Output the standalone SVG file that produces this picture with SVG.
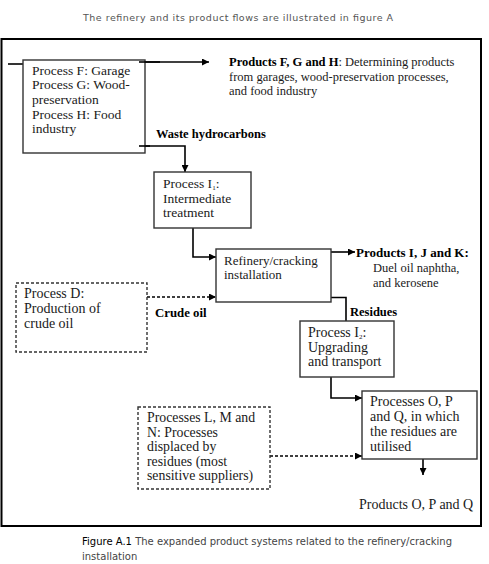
<svg xmlns="http://www.w3.org/2000/svg" width="489" height="564" viewBox="0 0 489 564">
<defs>
<marker id="arr" viewBox="0 0 10 10" refX="10" refY="5" markerWidth="7" markerHeight="7" markerUnits="userSpaceOnUse" orient="auto"><path d="M0,0 L10,5 L0,10 z" fill="#000"/></marker>
<style>
.box{fill:#fff;stroke:#333;stroke-width:1.4}
.dbox{fill:#fff;stroke:#333;stroke-width:1.4;stroke-dasharray:3,2}
.t{font-family:"Liberation Serif","Times New Roman",serif;fill:#1a1a1a}
.b{font-family:"Liberation Serif","Times New Roman",serif;font-weight:bold;fill:#000}
.c{fill:none;stroke:#000;stroke-width:1.6}
.cd{fill:none;stroke:#000;stroke-width:1.6;stroke-dasharray:3,2}
.s{font-family:"DejaVu Sans","Liberation Sans",sans-serif}
</style>
</defs>
<rect width="489" height="564" fill="#fff"/>
<text class="s" x="83" y="21" font-size="9.5" fill="#555" textLength="310">The refinery and its product flows are illustrated in figure A</text>
<rect x="1.5" y="39" width="479.5" height="487" fill="none" stroke="#000" stroke-width="2"/>

<g id="connectors">
<line class="c" x1="8" y1="64" x2="23" y2="64"/>
<line class="c" x1="139" y1="62" x2="209" y2="62" marker-end="url(#arr)"/>
<polyline class="c" points="139,146 185,146 185,172" marker-end="url(#arr)"/>
<polyline class="c" points="193,228 193,257 216,257" marker-end="url(#arr)"/>
<line class="cd" x1="147" y1="297" x2="216" y2="297" marker-end="url(#arr)"/>
<line class="c" x1="331" y1="252" x2="355" y2="252" marker-end="url(#arr)"/>
<polyline class="c" points="331,297.5 346,297.5 346,321"/>
<polyline class="c" points="331,377 331,398 362,398" marker-end="url(#arr)"/>
<line class="cd" x1="270" y1="456" x2="362" y2="456" marker-end="url(#arr)"/>
<line class="c" x1="423" y1="459" x2="423" y2="475" marker-end="url(#arr)"/>
</g>

<g id="processFGH">
<rect class="box" x="23" y="60" width="122" height="93"/>
<text class="t" font-size="13.5"><tspan x="32" y="75">Process F: Garage</tspan><tspan x="32" y="89">Process G: Wood-</tspan><tspan x="32" y="104">preservation</tspan><tspan x="32" y="119">Process H: Food</tspan><tspan x="32" y="133">industry</tspan></text>
</g>
<line class="c" x1="139" y1="62" x2="160" y2="62"/>
<line class="c" x1="139" y1="146" x2="150" y2="146"/>

<g id="productsFGH">
<text class="t" font-size="12.5"><tspan x="229" y="66"><tspan class="b">Products F, G and H</tspan>: Determining products</tspan><tspan x="229" y="81">from garages, wood-preservation processes,</tspan><tspan x="229" y="95">and food industry</tspan></text>
</g>

<g id="labelWaste"><text class="b" x="156" y="138" font-size="12.5">Waste hydrocarbons</text></g>

<g id="processI1">
<rect class="box" x="154" y="172" width="97" height="56"/>
<text class="t" font-size="13.5"><tspan x="163" y="188">Process I<tspan font-size="7" dy="2">1</tspan><tspan dy="-2">:</tspan></tspan><tspan x="163" y="203">Intermediate</tspan><tspan x="163" y="217">treatment</tspan></text>
</g>

<g id="refinery">
<rect class="box" x="216" y="249" width="115" height="53"/>
<text class="t" font-size="13"><tspan x="224" y="265">Refinery/cracking</tspan><tspan x="224" y="279">installation</tspan></text>
</g>

<g id="productsIJK">
<text class="b" x="356" y="257" font-size="13">Products I, J and K:</text>
<text class="t" font-size="12.5"><tspan x="373" y="272">Duel oil naphtha,</tspan><tspan x="373" y="287">and kerosene</tspan></text>
</g>

<g id="processD">
<rect class="dbox" x="16" y="283" width="131" height="69"/>
<text class="t" font-size="14"><tspan x="24" y="298">Process D:</tspan><tspan x="24" y="313">Production of</tspan><tspan x="24" y="328">crude oil</tspan></text>
</g>

<g id="labelCrude"><text class="b" x="155" y="317" font-size="12.8">Crude oil</text></g>
<g id="labelResidues"><text class="b" x="350" y="316" font-size="12.5">Residues</text></g>

<g id="processI2">
<rect class="box" x="300" y="321" width="94" height="56"/>
<text class="t" font-size="14"><tspan x="308" y="337">Process I<tspan font-size="7" dy="2">2</tspan><tspan dy="-2">:</tspan></tspan><tspan x="308" y="351.5">Upgrading</tspan><tspan x="308" y="366">and transport</tspan></text>
</g>

<g id="processLMN">
<rect class="dbox" x="138" y="407" width="132" height="82"/>
<text class="t" font-size="13.8"><tspan x="147" y="422">Processes L, M and</tspan><tspan x="147" y="436.5">N: Processes</tspan><tspan x="147" y="451">displaced by</tspan><tspan x="147" y="465.5">residues (most</tspan><tspan x="147" y="480">sensitive suppliers)</tspan></text>
</g>

<g id="processOPQ">
<rect class="box" x="362" y="391" width="115" height="68"/>
<text class="t" font-size="14"><tspan x="370" y="406">Processes O, P</tspan><tspan x="370" y="421">and Q, in which</tspan><tspan x="370" y="436">the residues are</tspan><tspan x="370" y="451">utilised</tspan></text>
</g>

<g id="productsOPQ"><text class="t" x="359" y="509" font-size="14">Products O, P and Q</text></g>

<text class="s" font-size="10" fill="#444"><tspan x="82" y="545" textLength="370"><tspan fill="#000">Figure A.1</tspan> The expanded product systems related to the refinery/cracking</tspan><tspan x="82" y="560">installation</tspan></text>
</svg>
